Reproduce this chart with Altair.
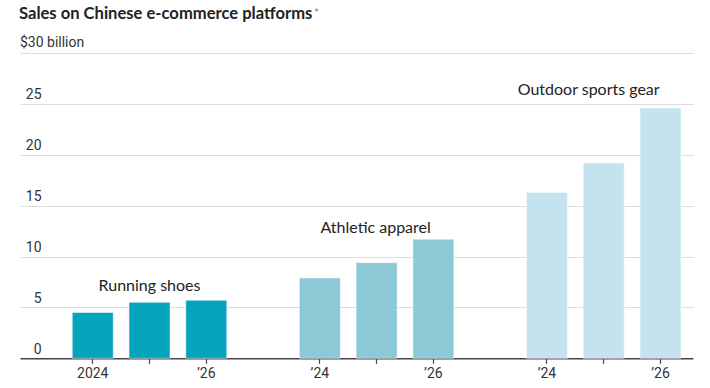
import altair as alt
import pandas as pd

# ---- data ----
groups = ["Running shoes", "Athletic apparel", "Outdoor sports gear"]
years = ["2024", "2025", "2026"]
running = [4.5, 5.5, 5.7]
athletic = [7.9, 9.4, 11.7]
outdoor = [16.3, 19.2, 24.6]
tick_labels = ["2024", "", "\u201926", "\u201924", "", "\u201926", "\u201924", "", "\u201926"]
label_y = [6.6, 12.3, 25.9]
label_dx = [0, -1, -15]
colors = ["#04a4bc", "#8bc9d7", "#c4e3ee"]
y_ticks = [0, 5, 10, 15, 20, 25, 30]
y_unit = "$30 billion"

series = [running, athletic, outdoor]
rows = []
for g, vals in zip(groups, series):
    for yr, v in zip(years, vals):
        rows.append({"group": g, "year": yr, "slot": f"{g}|{yr}", "value": v})
df = pd.DataFrame(rows)

slot_domain = []
for i, g in enumerate(groups):
    slot_domain += [f"{g}|{yr}" for yr in years]
    if i < len(groups) - 1:
        slot_domain.append(f"gap{i}")
bar_slots = [s for s in slot_domain if not s.startswith("gap")]

label_expr = "''"
for s, l in zip(reversed(bar_slots), reversed(tick_labels)):
    label_expr = f"datum.value == '{s}' ? '{l}' : ({label_expr})"

FONT = "Lato"
NARROW = "Roboto"

xscale = alt.Scale(domain=slot_domain, paddingInner=0.278, paddingOuter=0.566, align=0.813)
yscale = alt.Scale(domain=[0, 30], nice=False)

bars = alt.Chart(df).mark_bar(stroke="#ffffff", strokeOpacity=0.5, strokeWidth=1).encode(
    x=alt.X("slot:N", scale=xscale, sort=slot_domain, title=None,
            axis=alt.Axis(values=bar_slots, labelExpr=label_expr, labelAngle=0,
                          domainColor="#444444", domainWidth=1.5, tickColor="#444444",
                          tickSize=5, tickWidth=1.2, labelPadding=3, labelFont=NARROW,
                          labelFontSize=14, labelColor="#333333", grid=False)),
    y=alt.Y("value:Q", scale=yscale, title=None,
            axis=alt.Axis(values=y_ticks, labelExpr="datum.value == 30 ? '' : datum.label",
                          domain=False, ticks=False, grid=True, gridColor="#dddddd",
                          gridWidth=1, labelAlign="right", labelPadding=-21,
                          labelOffset=-5, labelBaseline="alphabetic", labelFont=NARROW,
                          labelFontSize=14, labelColor="#333333")),
    color=alt.Color("group:N", scale=alt.Scale(domain=groups, range=colors), legend=None),
)

ann_layers = []
for g, ly, dx in zip(groups, label_y, label_dx):
    a = pd.DataFrame({"group": [g], "slot": [f"{g}|{years[1]}"], "y": [ly]})
    ann_layers.append(
        alt.Chart(a).mark_text(font=FONT, fontSize=16, color="#222222", dx=dx,
                               baseline="alphabetic", align="center").encode(
            x=alt.X("slot:N", scale=xscale, sort=slot_domain),
            y=alt.Y("y:Q", scale=yscale),
            text="group:N",
        )
    )

unit = alt.Chart(pd.DataFrame({"t": [y_unit]})).mark_text(
    font=NARROW, fontSize=14, color="#333333", align="left", baseline="alphabetic").encode(
    x=alt.value(0), y=alt.value(-6), text="t:N")

title = alt.Chart(pd.DataFrame({"t": ["Sales on Chinese e-commerce platforms"]})).mark_text(
    font=FONT, fontSize=16.6, fontWeight="bold", color="#222222", align="left",
    baseline="alphabetic").encode(x=alt.value(-1), y=alt.value(-34), text="t:N")

star = alt.Chart(pd.DataFrame({"t": ["*"]})).mark_text(
    font=FONT, fontSize=12, color="#888888", align="left", baseline="alphabetic").encode(
    x=alt.value(294), y=alt.value(-36), text="t:N")

chart = alt.layer(bars, *ann_layers, unit, title, star).properties(
    width=673, height=305.3,
    background="white",
    autosize=alt.AutoSizeParams(type="none"),
    padding={"left": 20, "top": 53, "right": 17, "bottom": 30},
).configure_view(strokeWidth=0)

chart.save("out.html", embed_options={"renderer": "svg", "actions": False})
